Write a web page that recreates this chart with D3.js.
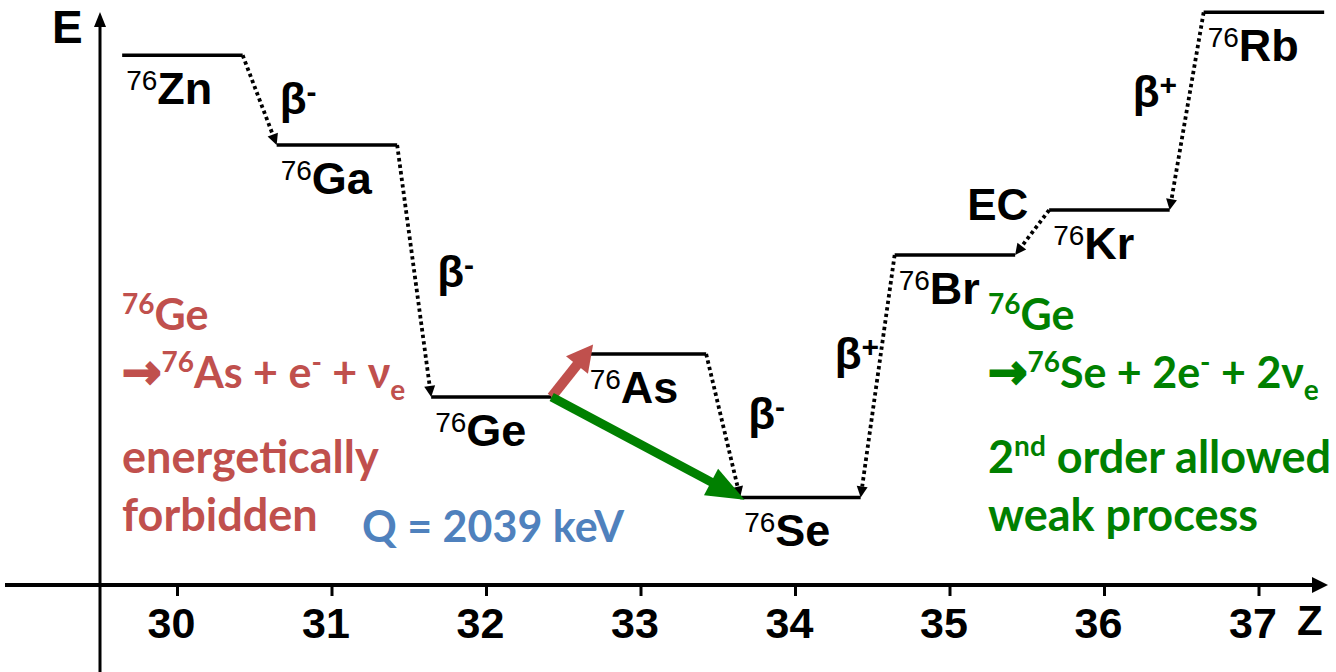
<!DOCTYPE html>
<html>
<head>
<meta charset="utf-8">
<script src="https://cdn.jsdelivr.net/npm/d3@7"></script>
<style>
  html, body { margin: 0; padding: 0; background: #fff; }
  svg { display: block; }
  text { white-space: pre; }
</style>
</head>
<body>
<svg id="chart" width="1336" height="672"></svg>
<script>
// A = 76 isobar chain: proton number, element symbol and ground-state level
// energy (keV above the 76Se ground state, schematic for the outer nuclides)
const massNumber = "76";
const protonNumbers = [30, 31, 32, 33, 34, 35, 36, 37];
const symbols = ["Zn", "Ga", "Ge", "As", "Se", "Br", "Kr", "Rb"];
const levelEnergies = [8970, 7150, 2039, 2910, 0, 4920, 5830, 9840];

// single-step decays along the chain
const decayParents = ["Zn", "Ga", "As", "Br", "Kr", "Rb"];
const decayDaughters = ["Ga", "Ge", "Se", "Se", "Br", "Kr"];
const decayModes = ["β-", "β-", "β-", "β+", "EC", "β+"];

// transitions out of 76Ge
const geTargets = ["As", "Se"];
const qValueKeV = 2039;

// x-axis tick labels
const tickValues = [30, 31, 32, 33, 34, 35, 36, 37];

// ---------------------------------------------------------------------------
const svg = d3.select("#chart");
const axisY = 585;
const axisX = 100;

const x = d3.scaleLinear().domain([30, 37]).range([177, 1258.5]);
const y = d3.scaleLinear().domain([-1775, 10090]).range([axisY, 0]);

// level bars extend from Z - 0.355 to Z + 0.425
const levelLeft = 0.355, levelRight = 0.425;
const idx = s => symbols.indexOf(s);
const leftEnd = i => [x(protonNumbers[i] - levelLeft), y(levelEnergies[i])];
const rightEnd = i => [x(protonNumbers[i] + levelRight), y(levelEnergies[i])];

const armFont = "'Liberation Sans', Arial, sans-serif";
const textFont = "Lato, 'Open Sans', sans-serif";

// text with superscript / subscript / arrow runs
function richText(parent, px, py, parts, opts) {
  const t = parent.append("text")
    .attr("x", px).attr("y", py)
    .style("font-family", opts.family)
    .style("font-weight", opts.weight || "bold")
    .style("font-size", opts.size + "px")
    .attr("fill", opts.color || "#000");
  let offset = 0;
  parts.forEach(([str, kind]) => {
    const target = kind === "sup" ? -opts.rise : kind === "sub" ? opts.drop : 0;
    const ts = t.append("tspan").attr("dy", target - offset).text(str);
    if (kind === "sup" || kind === "sub") {
      ts.style("font-size", opts.smallSize + "px");
      if (opts.smallWeight) ts.style("font-weight", opts.smallWeight);
    } else if (kind === "arrow") {
      ts.style("font-family", "'DejaVu Sans', sans-serif")
        .style("font-size", (opts.size + 4) + "px")
        .attr("stroke", opts.color).attr("stroke-width", 2.2);
    }
    offset = target;
  });
  return t;
}

// ---- axes ------------------------------------------------------------------
const axis = d3.axisBottom(x).tickValues(tickValues).tickSize(11).tickSizeOuter(0)
  .tickFormat(d3.format("d"));
const gx = svg.append("g").attr("transform", `translate(0,${axisY})`).call(axis);
gx.select(".domain").remove();
gx.selectAll(".tick line").attr("stroke", "#000").attr("stroke-width", 3);
gx.selectAll(".tick text")
  .attr("y", 53).attr("dy", 0).attr("dx", -6)
  .attr("fill", "#000")
  .style("font-family", armFont).style("font-weight", "bold").style("font-size", "43px");

svg.append("line").attr("x1", 5).attr("x2", 1314).attr("y1", axisY).attr("y2", axisY)
  .attr("stroke", "#000").attr("stroke-width", 4);
svg.append("path").attr("d", `M1328,${axisY} L1312,${axisY - 8} L1312,${axisY + 8} Z`).attr("fill", "#000");

svg.append("line").attr("x1", axisX).attr("x2", axisX).attr("y1", 672).attr("y2", 24)
  .attr("stroke", "#000").attr("stroke-width", 3);
svg.append("path").attr("d", `M${axisX},12 L${axisX - 6},27 L${axisX + 6},27 Z`).attr("fill", "#000");

svg.append("text").attr("x", 52).attr("y", 43).text("E")
  .style("font-family", armFont).style("font-weight", "bold").style("font-size", "46px");
svg.append("text").attr("x", 1297).attr("y", 635).text("Z")
  .style("font-family", armFont).style("font-weight", "bold").style("font-size", "42px");

// ---- level bars and nuclide labels ----------------------------------------------
const levels = svg.append("g");
symbols.forEach((s, i) => {
  const [x1, yy] = leftEnd(i);
  const [x2] = rightEnd(i);
  levels.append("line").attr("x1", x1).attr("x2", x2).attr("y1", yy).attr("y2", yy)
    .attr("stroke", "#000").attr("stroke-width", 3.5);
  richText(levels, x1 + 4, yy + 49, [[massNumber, "sup"], [s, null]], {
    family: armFont, size: 45, smallSize: 28, smallWeight: "normal", rise: 14, drop: 0
  });
});

// ---- dotted decay arrows -------------------------------------------------------
const labelOffsets = [[20, 14], [23, 16], [25, 3], [-43, -7], [-65, -12], [-54, -4]];
const decays = svg.append("g");
decayParents.forEach((p, k) => {
  const pi = idx(p), di = idx(decayDaughters[k]);
  const up = protonNumbers[di] > protonNumbers[pi];
  const start = up ? rightEnd(pi) : leftEnd(pi);
  const end = up ? leftEnd(di) : rightEnd(di);
  const dx = end[0] - start[0], dy = end[1] - start[1];
  const len = Math.hypot(dx, dy), ux = dx / len, uy = dy / len;
  const headLen = 11, headHalf = 5.5;
  const bx = end[0] - ux * headLen, by = end[1] - uy * headLen;
  decays.append("line")
    .attr("x1", start[0]).attr("y1", start[1]).attr("x2", bx).attr("y2", by)
    .attr("stroke", "#000").attr("stroke-width", 3.8).attr("stroke-dasharray", "3.4,3.2");
  decays.append("path")
    .attr("d", `M${end[0]},${end[1]} L${bx - uy * headHalf},${by + ux * headHalf} L${bx + uy * headHalf},${by - ux * headHalf} Z`)
    .attr("fill", "#000");

  const mx = (start[0] + end[0]) / 2 + labelOffsets[k][0];
  const my = (start[1] + end[1]) / 2 + labelOffsets[k][1];
  const mode = decayModes[k];
  const parts = mode.startsWith("β") ? [["β", null], [mode.slice(1), "sup"]] : [[mode, null]];
  richText(decays, mx, my, parts, { family: armFont, size: 44, smallSize: 30, rise: 12, drop: 0 });
});

// ---- 76Ge transitions: forbidden single beta (red) and double beta (green) ----------
const geIndex = idx("Ge");
const arrowStyles = [
  { color: "#C0504D", width: 10, headLen: 26, headHalf: 14, extend: 12 },
  { color: "#008000", width: 9, headLen: 38, headHalf: 15, extend: 5 }
];
const arrows = svg.append("g");
geTargets.forEach((t, k) => {
  const st = arrowStyles[k];
  const start = rightEnd(geIndex);
  const target = leftEnd(idx(t));
  const dx = target[0] - start[0], dy = target[1] - start[1];
  const len = Math.hypot(dx, dy), ux = dx / len, uy = dy / len;
  const tip = [target[0] + ux * st.extend, target[1] + uy * st.extend];
  const bx = tip[0] - ux * st.headLen, by = tip[1] - uy * st.headLen;
  arrows.append("line")
    .attr("x1", start[0]).attr("y1", start[1]).attr("x2", bx + ux * 2).attr("y2", by + uy * 2)
    .attr("stroke", st.color).attr("stroke-width", st.width);
  arrows.append("path")
    .attr("d", `M${tip[0]},${tip[1]} L${bx - uy * st.headHalf},${by + ux * st.headHalf} L${bx + uy * st.headHalf},${by - ux * st.headHalf} Z`)
    .attr("fill", st.color);
});

// ---- annotations ---------------------------------------------------------------
const red = "#C0504D", green = "#008000", blue = "#4F81BD";
const noteSmall = { family: textFont, size: 43, smallSize: 28, rise: 16, drop: 12 };
const noteLarge = { family: textFont, size: 45, smallSize: 28, rise: 17, drop: 12 };

const notes = svg.append("g");
richText(notes, 122, 330, [[massNumber, "sup"], ["Ge", null]], { ...noteSmall, color: red });
richText(notes, 122, 388, [["→", "arrow"], [massNumber, "sup"], ["As + e", null], ["-", "sup"], [" + ν", null], ["e", "sub"]], { ...noteSmall, color: red });
richText(notes, 122, 473, [["energetically", null]], { ...noteLarge, color: red });
richText(notes, 122, 531, [["forbidden", null]], { ...noteLarge, color: red });

richText(notes, 362, 542, [[`Q = ${qValueKeV} keV`, null]], { ...noteLarge, size: 43, color: blue });

richText(notes, 988, 330, [[massNumber, "sup"], ["Ge", null]], { ...noteSmall, color: green });
richText(notes, 988, 388, [["→", "arrow"], [massNumber, "sup"], ["Se + 2e", null], ["-", "sup"], [" + 2ν", null], ["e", "sub"]], { ...noteSmall, color: green });
richText(notes, 988, 473, [["2", null], ["nd", "sup"], [" order allowed", null]], { ...noteLarge, color: green });
richText(notes, 988, 531, [["weak process", null]], { ...noteLarge, color: green });
</script>
</body>
</html>
